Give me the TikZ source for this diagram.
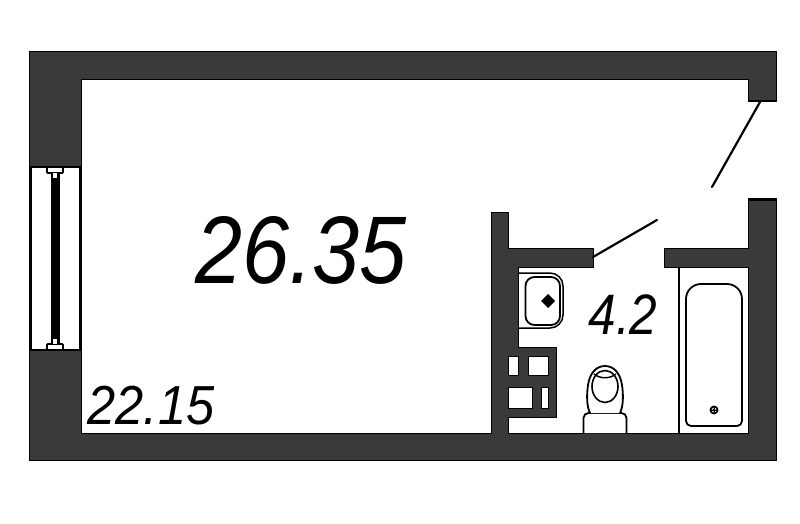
\documentclass[tikz,border=0pt]{standalone}
\usepackage{fontspec}
\setmainfont{Liberation Sans}
\definecolor{wallgray}{HTML}{3A3A3A}
\tikzset{
  wall/.style = {fill=wallgray, draw=black, line width=1pt, line join=round},
  hole/.style = {fill=white, draw=black, line width=1pt},
  fixture/.style = {draw=black, line width=1.8pt, fill=white},
  leaf/.style = {draw=black, line width=2.2pt, line cap=round},
  area/.style = {inner sep=0pt, font=\itshape}
}
\begin{document}
\begin{tikzpicture}[x=1pt, y=-1pt]
  \useasboundingbox (0,0) rectangle (800,524);
  % walls
  \draw[wall] (29,52) -- (776,52) -- (776,102) -- (748,102) -- (748,80) -- (81,80)
    -- (81,433) -- (491,433) -- (491,212) -- (508,212) -- (508,248) -- (593,248)
    -- (593,267) -- (518,267) -- (518,347) -- (556,347) -- (556,417) -- (508,417)
    -- (508,433) -- (748,433) -- (748,267) -- (664,267) -- (664,248) -- (748,248)
    -- (748,198) -- (776,198) -- (776,460) -- (29,460) -- cycle;
  \draw[line width=2.5pt] (748,101) -- (776,101);
  \draw[line width=3pt] (748,199.5) -- (776,199.5);
  % cabinet
  \foreach \xa/\ya/\xb/\yb in {508/356/518/375, 528/356/548/375, 508/387/532/408, 541/387/548/408}
    \draw[hole] (\xa,\ya) rectangle (\xb,\yb);
  % window
  \draw[hole, line width=1.5pt] (31,167) rectangle (80,350);
  \fill[black] (50.5,172) rectangle (59.5,345);
  \foreach \ya/\yb/\yc/\yd in {167/173/173/178, 344/350/339/344} {
    \draw[hole, line width=1.6pt, rounded corners=0.8pt] (47,\ya) rectangle (63,\yb);
    \draw[hole, draw=none] (53,\yc) rectangle (57,\yd);
  }
  % door leaves
  \draw[leaf] (760,102) -- (712,187);
  \draw[leaf] (593,257) -- (657,220);
  % bath
  \draw[line width=1.8pt] (679,267) -- (679,433);
  \draw[fixture] (686,350) [rounded corners=15pt] -- (686,284) -- (742,284) -- (742,350)
    [rounded corners=5pt] -- (742,426) -- (686,426) -- cycle;
  \fill[black] (714,410) circle (4.5);
  \draw[white, line width=0.7pt] (714,410) circle (2);
  \draw[black, line width=0.5pt] (711,410) -- (717,410) (714,407) -- (714,413);
  % sink
  \draw[line width=1.5pt, rounded corners=13pt] (518,273) -- (563,273) -- (563,328) -- (518,328);
  \draw[fixture, rounded corners=9pt] (525.5,277) rectangle (560,325);
  \fill[black] (548,294) -- (555,301) -- (548,308) -- (541,301) -- cycle;
  % toilet
  \draw[fixture, rounded corners=5pt] (583.5,433) -- (583.5,413) -- (626.5,413) -- (626.5,433);
  \draw[fixture] (590,413) .. controls (586,405) and (587,392) .. (588,385)
    .. controls (590,372) and (597,366) .. (605,366)
    .. controls (613,366) and (620,372) .. (622,385)
    .. controls (623,392) and (624,405) .. (620,413);
  \draw[fixture, line width=1.6pt] (605,386.5) ellipse (13 and 16);
  \draw[line width=1.4pt] (594,374) .. controls (600,379) and (610,379) .. (616,374);
  % areas
  \node[area, font=\itshape\fontsize{96}{96}\selectfont, xscale=0.88] (mainroom) at (301,250) {26.35};
  \node[area, font=\itshape\fontsize{57}{57}\selectfont, xscale=0.87] (bathroom) at (623,315) {4.2};
  \node[area, font=\itshape\fontsize{55}{55}\selectfont, xscale=0.92] (balcony) at (151,406) {22.15};
\end{tikzpicture}
\end{document}
